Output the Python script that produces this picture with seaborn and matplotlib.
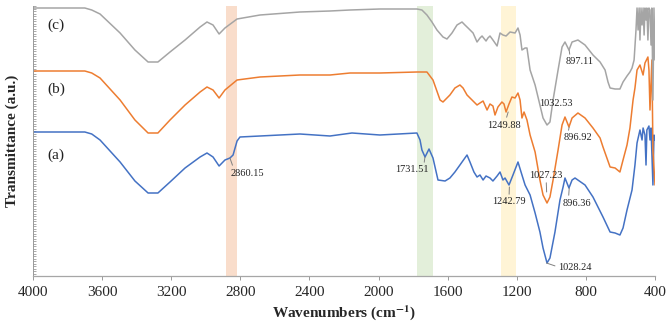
import numpy as np
import pandas as pd
import matplotlib
matplotlib.use('Agg')
import matplotlib.pyplot as plt
import seaborn as sns
from matplotlib.ticker import MultipleLocator

# FTIR spectra, wavenumber (cm-1) and transmittance (a.u., offset per curve)
wn_a = [4000, 3700, 3660, 3612, 3496, 3410, 3334, 3277, 3207, 3120, 3033, 2993, 2958, 2923, 2889, 2860,
        2842, 2819, 2802, 2686, 2455, 2281, 2154, 1992, 1778, 1760, 1749, 1731, 1708, 1685, 1656,
        1615, 1587, 1558, 1529, 1488, 1471, 1448, 1430, 1413, 1395, 1378, 1355, 1338, 1314, 1297,
        1280, 1268, 1245, 1222, 1193, 1170, 1152, 1123, 1094, 1066, 1048, 1025, 1008, 979, 950,
        932, 921, 898, 880, 863, 805, 759, 701, 660, 631, 603, 585, 562, 533, 516, 504, 487, 475,
        469, 458, 452, 447, 435, 429, 423, 412, 406, 400]
t_a = [144, 144, 142, 136, 114, 95, 83, 83, 94, 108, 119, 123, 119, 110, 116, 118,
       121, 135, 139, 140, 142, 140, 143, 141, 143, 136, 126, 119, 127, 118, 96,
       95, 98, 104, 111, 121, 114, 104, 99, 101, 96, 100, 98, 95, 100, 104,
       96, 98, 91, 101, 114, 101, 91, 81, 63, 44, 28, 13, 18, 44, 76,
       89, 98, 88, 96, 98, 91, 79, 59, 44, 43, 41, 48, 66, 86, 111, 133, 146, 136,
       148, 141, 111, 146, 150, 136, 148, 91, 141, 136]

wn_b = [4000, 3700, 3660, 3612, 3496, 3410, 3334, 3277, 3207, 3120, 3033, 2993, 2958, 2923, 2889, 2819,
        2686, 2455, 2281, 2165, 1992, 1778, 1720, 1685, 1644, 1627, 1587, 1558, 1529, 1511, 1488,
        1459, 1430, 1413, 1395, 1372, 1355, 1338, 1326, 1309, 1286, 1274, 1262, 1245, 1228, 1210,
        1193, 1181, 1170, 1158, 1141, 1123, 1094, 1066, 1048, 1025, 1008, 990, 961, 938, 921,
        898, 880, 846, 805, 759, 718, 701, 660, 631, 603, 585, 562, 545, 527, 516, 504, 487,
        469, 458, 441, 435, 429, 418, 412, 400]
t_b = [205, 205, 203, 198, 176, 156, 143, 143, 156, 171, 184, 189, 186, 178, 186, 196,
       199, 201, 201, 203, 203, 204, 204, 196, 176, 174, 181, 188, 191, 188, 181,
       176, 171, 173, 175, 166, 172, 170, 161, 169, 174, 172, 164, 172, 179, 178,
       183, 176, 158, 164, 156, 141, 124, 96, 81, 73, 79, 96, 126, 151, 159,
       149, 158, 163, 158, 148, 138, 129, 109, 108, 104, 116, 131, 148, 176, 188, 206, 211,
       201, 213, 219, 206, 166, 216, 126, 91]

wn_c = [4000, 3700, 3660, 3612, 3496, 3410, 3334, 3277, 3207, 3120, 3033, 2993, 2958, 2923, 2889, 2819,
        2686, 2455, 2281, 2165, 1992, 1778, 1749, 1720, 1691, 1662, 1627, 1604, 1575, 1546, 1517,
        1500, 1482, 1453, 1430, 1413, 1401, 1378, 1367, 1355, 1338, 1314, 1297, 1280, 1262, 1239,
        1210, 1193, 1181, 1170, 1152, 1141, 1123, 1094, 1066, 1048, 1025, 1008, 990, 961, 938,
        921, 898, 880, 846, 805, 759, 718, 689, 672, 660, 631, 603, 585, 562, 545, 533, 521,
        510, 504, 498, 492, 487, 481, 475, 469, 463, 458, 452, 447, 441, 435, 429, 423, 418,
        412, 406, 400]
t_c = [268, 268, 266, 262, 243, 226, 214, 214, 224, 236, 249, 254, 251, 242, 248, 257,
       261, 264, 265, 266, 267, 267, 266, 261, 254, 246, 239, 237, 243, 251, 254,
       251, 248, 243, 234, 238, 240, 235, 238, 240, 236, 230, 243, 241, 240, 244,
       243, 248, 241, 226, 228, 228, 206, 191, 171, 158, 151, 154, 176, 206, 229,
       234, 226, 234, 236, 231, 221, 214, 206, 194, 188, 187, 187, 194, 200, 204, 208, 216,
       246, 268, 246, 268, 236, 268, 251, 268, 241, 268, 256, 268, 236, 268, 266, 231, 268,
       176, 268, 216]

series = [('(a)', wn_a, t_a, '#4472C4'),
          ('(b)', wn_b, t_b, '#ED7D31'),
          ('(c)', wn_c, t_c, '#A5A5A5')]
curve_labels = ['(a)', '(b)', '(c)']
label_t = [121, 187, 251]

# highlighted bands (cm-1)
bands = [(2883, 2820, '#F9DDCB'), (1778, 1685, '#E3EFDA'), (1292, 1205, '#FFF4D6')]

# peak annotations: label, peak x, peak y, text x, text y, leader start on text
peaks = [
    ('2860.15', 2860.15, 118, 2761, 103, (0.1, 1.0)),
    ('1731.51', 1731.51, 119, 1806, 106, (0.85, 1.0)),
    ('1242.79', 1242.79, 89, 1245, 74, (0.5, 1.0)),
    ('1249.88', 1249.88, 164, 1274, 151, (0.55, 1.0)),
    ('1032.53', 1032.53, 160, 973, 173, None),
    ('897.11', 897.11, 226, 834, 214, (0.15, 1.0)),
    ('896.92', 896.92, 149, 846, 138, (0.15, 1.0)),
    ('1027.23', 1027.23, 84, 1030, 101, (0.5, 0.0)),
    ('896.36', 896.36, 88, 851, 73, (0.2, 1.0)),
    ('1028.24', 1028.24, 13, 863, 9, (0.0, 0.5)),
]

sns.set_theme(style='white')
plt.rcParams['font.family'] = ['Liberation Serif', 'DejaVu Serif']
plt.rcParams['mathtext.fontset'] = 'stix'

fig = plt.figure(figsize=(6.69, 3.22), dpi=100)
ax = fig.add_axes([33 / 669, 46 / 322, 622 / 669, 270 / 322])

for lo, hi, col in bands:
    ax.axvspan(hi, lo, color=col, lw=0, zorder=0)

for name, wn, t, col in series:
    df = pd.DataFrame({'wn': wn, 't': t})
    sns.lineplot(data=df, x='wn', y='t', ax=ax, color=col, lw=1.1,
                 estimator=None, sort=False, zorder=2)

for lab, ty in zip(curve_labels, label_t):
    ax.text(3867, ty, lab, fontsize=11, ha='center', va='center', color='#222222')

for txt, px, py, tx, ty, rp in peaks:
    if rp is None:
        ax.text(tx, ty, txt, fontsize=7.5, ha='center', va='center', color='#222222')
        continue
    ax.annotate(txt, xy=(px, py), xytext=(tx, ty), fontsize=7.5, ha='center', va='center',
                color='#222222',
                arrowprops=dict(arrowstyle='-', color='#808080', lw=0.7, relpos=rp,
                                shrinkA=0, shrinkB=0))

ax.set_xlim(4000, 400)
ax.set_ylim(0, 270)
ax.set_xticks(np.arange(4000, 399, -400))
ax.set_yticks([])
ax.yaxis.set_minor_locator(MultipleLocator(2.5))
ax.tick_params(axis='y', which='minor', direction='in', length=2, width=0.5,
               color='#888888', left=True)
ax.tick_params(axis='x', which='major', direction='out', length=3, width=0.7,
               color='#999999', labelsize=11, pad=4, bottom=True)

for s in ['top', 'right']:
    ax.spines[s].set_visible(False)
ax.spines['left'].set_color('#999999')
ax.spines['bottom'].set_color('#A6A6A6')
ax.spines['left'].set_linewidth(0.7)
ax.spines['bottom'].set_linewidth(0.9)

ax.set_xlabel(r'Wavenumbers (cm$^{\mathbf{-1}}$)', fontsize=11, fontweight='bold', labelpad=3)
ax.set_ylabel('Transmittance (a.u.)', fontsize=11, fontweight='bold', labelpad=7)

fig.savefig('out.png', dpi=100)
